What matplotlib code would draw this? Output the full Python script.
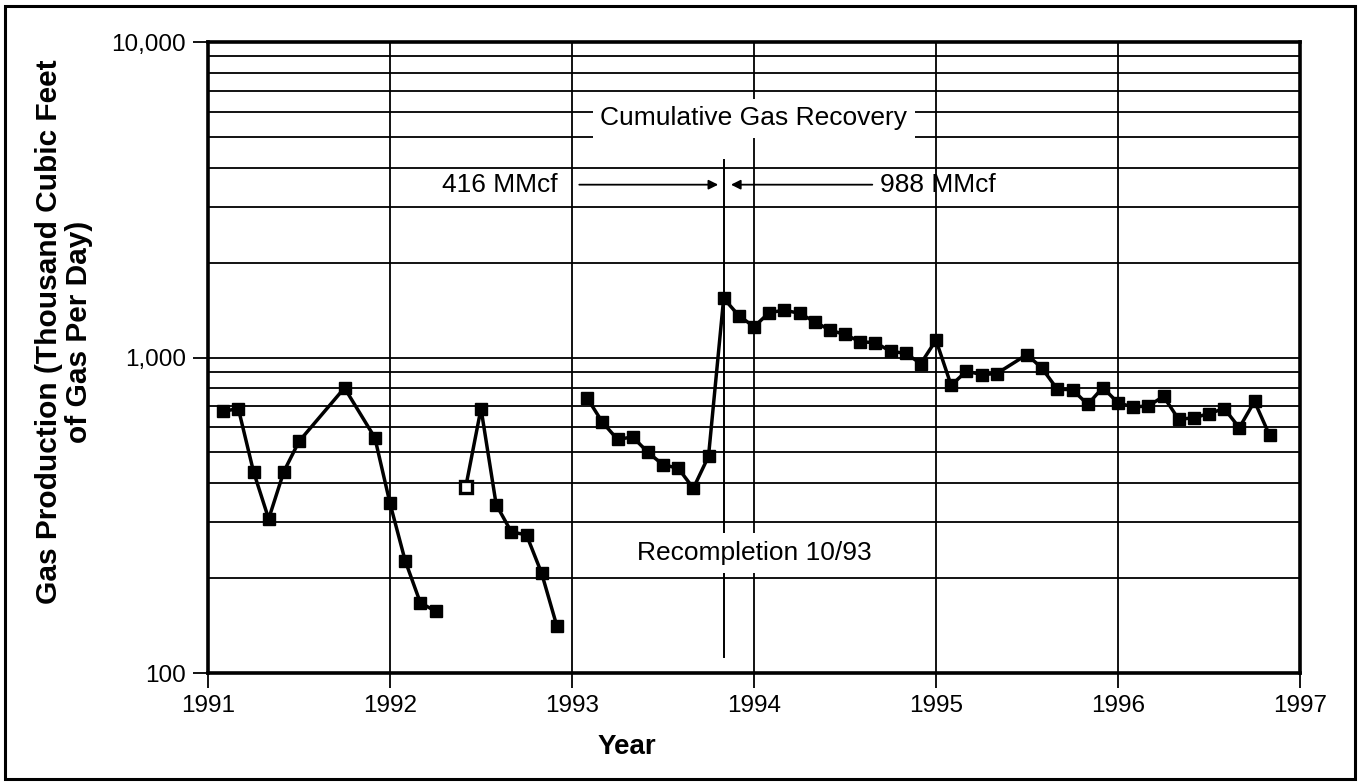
import matplotlib
matplotlib.use("Agg")
import matplotlib.pyplot as plt
from matplotlib.ticker import FixedLocator, NullFormatter
from matplotlib.patches import Rectangle

plt.rcParams['font.family'] = ['Liberation Sans', 'DejaVu Sans']

# Months counted from Jan 1991 (x = 1991 + month/12)
seg1_months = [1, 2, 3, 4, 5, 6, 9, 11, 12, 13, 14, 15]
seg1_values = [675, 689, 435, 308, 435, 542, 801, 557, 345, 227, 167, 157]

seg2_months = [17, 18, 19, 20, 21, 22, 23]
seg2_values = [390, 689, 342, 280, 274, 207, 141]

seg3_months = list(range(25, 53)) + list(range(54, 71))
seg3_values = [744, 624, 550, 560, 501, 457, 446, 385, 486, 1540,
               1357, 1252, 1387, 1413, 1380, 1299, 1221, 1183, 1122, 1114,
               1047, 1030, 957, 1135, 816, 905, 883, 889,
               1022, 923, 793, 791, 710, 803, 718, 697, 702, 753,
               637, 644, 664, 689, 599, 726, 566]

year_ticks = [1991, 1992, 1993, 1994, 1995, 1996, 1997]
y_major = [100, 1000, 10000]
y_major_labels = ['100', '1,000', '10,000']
y_minor = [200, 300, 400, 500, 600, 700, 800, 900,
           2000, 3000, 4000, 5000, 6000, 7000, 8000, 9000]

recompletion_month = 34
cum_before = '416 MMcf'
cum_after = '988 MMcf'


def to_year(months):
    return [1991 + m / 12 for m in months]


fig = plt.figure(figsize=(13.6, 7.82), dpi=100)
ax = fig.add_axes([208 / 1360, 1 - 673 / 782, (1300 - 208) / 1360, (673 - 42) / 782])

ax.set_yscale('log')
ax.set_xlim(1991, 1997)
ax.set_ylim(100, 10000)

# grid
ax.yaxis.set_major_locator(FixedLocator(y_major))
ax.yaxis.set_minor_locator(FixedLocator(y_minor))
ax.yaxis.set_minor_formatter(NullFormatter())
ax.set_yticklabels(y_major_labels)
ax.set_xticks(year_ticks)
ax.set_xticklabels([str(y) for y in year_ticks])
ax.grid(True, which='both', axis='y', color='black', linewidth=1.3, zorder=0)
ax.grid(True, which='major', axis='x', color='black', linewidth=1.3, zorder=0)
ax.set_axisbelow(True)

ax.tick_params(axis='both', which='major', direction='out', length=11,
               width=1.3, labelsize=17.5, color='black', pad=5)
ax.tick_params(axis='y', which='minor', length=0)
for s in ax.spines.values():
    s.set_linewidth(2.6)
    s.set_color('black')

line_kw = dict(color='black', linewidth=2.5, marker='s', markersize=8,
               markerfacecolor='black', markeredgecolor='black', zorder=4)
ax.plot(to_year(seg1_months), seg1_values, **line_kw)
ax.plot(to_year(seg2_months), seg2_values, **line_kw)
# hollow first point of segment 2
ax.plot(to_year(seg2_months[:1]), seg2_values[:1], linestyle='none', marker='s',
        markersize=8, markerfacecolor='white', markeredgecolor='black',
        markeredgewidth=2.4, zorder=5)
ax.plot(to_year(seg3_months), seg3_values, **line_kw)

# recompletion line
xr = to_year([recompletion_month])[0]
ax.plot([xr, xr], [112, 4225], color='black', linewidth=1.4, zorder=2)

txt_kw = dict(fontsize=19, color='black', zorder=6)
box = dict(boxstyle='square,pad=0.3', facecolor='white', edgecolor='none')
ax.text(1994.0, 5722, 'Cumulative Gas Recovery', ha='center', va='center',
        bbox=box, **txt_kw)
ax.text(1994.0, 240, 'Recompletion 10/93', ha='center', va='center',
        bbox=box, **txt_kw)

y_arrow = 3530
ax.text(1992.92, y_arrow, cum_before, ha='right', va='center', **txt_kw)
ax.text(1994.69, y_arrow, cum_after, ha='left', va='center', **txt_kw)
arrow_kw = dict(arrowstyle='-|>', color='black', lw=1.3, mutation_scale=14,
                shrinkA=0, shrinkB=0)
ax.annotate('', xy=(xr - 0.03, y_arrow), xytext=(1993.04, y_arrow),
            arrowprops=arrow_kw, zorder=5)
ax.annotate('', xy=(xr + 0.04, y_arrow), xytext=(1994.65, y_arrow),
            arrowprops=arrow_kw, zorder=5)

fig.text(64 / 1360, 1 - 332 / 782,
         'Gas Production (Thousand Cubic Feet\nof Gas Per Day)',
         rotation=90, ha='center', va='center', multialignment='center',
         fontsize=21.5, fontweight='bold', linespacing=1.05)
fig.text(627 / 1360, 1 - 747 / 782, 'Year', ha='center', va='center',
         fontsize=20, fontweight='bold')

# outer border
fig.patches.append(Rectangle((0.004, 0.004), 0.992, 0.988, transform=fig.transFigure,
                             fill=False, edgecolor='black', linewidth=2.2))

fig.savefig('out.png', dpi=100)
